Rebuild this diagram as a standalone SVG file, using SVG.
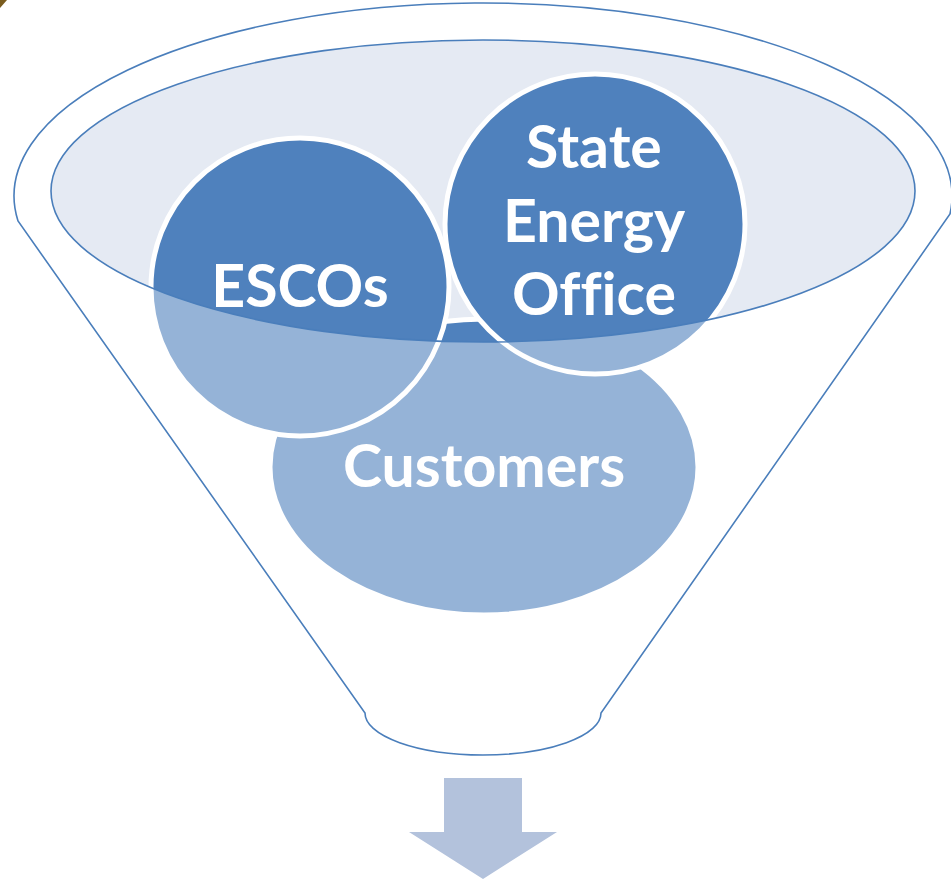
<svg xmlns="http://www.w3.org/2000/svg" width="951" height="887" viewBox="0 0 951 887">
  <style>
    .bubble { fill: #4f81bd; stroke: #ffffff; stroke-width: 5; }
    .label { font-family: Lato, "Open Sans", "Liberation Sans", sans-serif; font-weight: bold; font-size: 59px; fill: #ffffff; text-anchor: middle; font-variant-ligatures: none; font-feature-settings: "liga" 0; }
    .outline { fill: none; stroke: #4a7ebb; stroke-width: 1.6; }
  </style>
  <rect x="0" y="0" width="951" height="887" fill="#ffffff"/>
  <g id="corner-mark">
    <polygon points="0,0 7,0 0,8" fill="#7a5c1e"/>
  </g>
  <g id="funnel-mouth">
    <ellipse cx="483" cy="191" rx="432" ry="151" fill="#e5eaf3"/>
  </g>
  <g id="node-customers">
    <ellipse class="bubble" cx="484" cy="467" rx="214" ry="148"/>
  </g>
  <g id="node-escos">
    <circle class="bubble" cx="300" cy="287" r="149"/>
  </g>
  <g id="node-state-energy-office">
    <circle class="bubble" cx="595" cy="224" r="150"/>
  </g>
  <g id="funnel">
    <path fill="#ffffff" fill-opacity="0.4" fill-rule="evenodd" d="M18,221 A469,193 0 1 1 950,214 L601,713 A118,42 0 0 1 365,713 Z M51,191 A432,151 0 1 0 915,191 A432,151 0 1 0 51,191 Z"/>
    <path class="outline" d="M18,221 A469,193 0 1 1 950,214 L601,713 A118,42 0 0 1 365,713 Z"/>
    <ellipse class="outline" cx="483" cy="191" rx="432" ry="151"/>
  </g>
  <g id="labels">
    <text class="label" x="300" y="307">ESCOs</text>
    <text class="label" x="594" y="168">State</text>
    <text class="label" x="594" y="242">Energy</text>
    <text class="label" x="594" y="315">Office</text>
    <text class="label" x="484" y="487">Customers</text>
  </g>
  <g id="connectors">
    <polygon points="444,778 522,778 522,832 557,832 483,879 409,832 444,832" fill="#b3c2dc"/>
  </g>
</svg>
